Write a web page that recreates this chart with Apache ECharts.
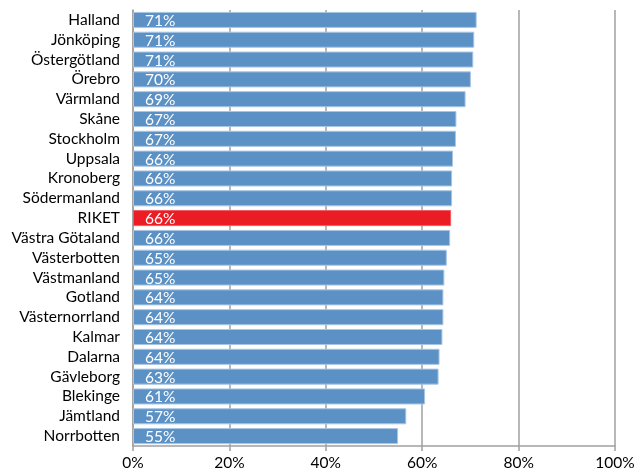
<!DOCTYPE html>
<html>
<head>
<meta charset="utf-8">
<script src="https://cdn.jsdelivr.net/npm/echarts@6/dist/echarts.min.js"></script>
<style>
  html, body { margin: 0; padding: 0; background: #fff; }
  #chart { width: 640px; height: 471px; }
</style>
</head>
<body>
<div id="chart"></div>
<script>
// Län ordered from highest to lowest share, with the national figure (RIKET) in place
const regions = [
  'Halland', 'Jönköping', 'Östergötland', 'Örebro', 'Värmland', 'Skåne',
  'Stockholm', 'Uppsala', 'Kronoberg', 'Södermanland', 'RIKET',
  'Västra Götaland', 'Västerbotten', 'Västmanland', 'Gotland',
  'Västernorrland', 'Kalmar', 'Dalarna', 'Gävleborg', 'Blekinge',
  'Jämtland', 'Norrbotten'
];
const shares = [
  71.3, 70.8, 70.6, 70.1, 69.0, 67.1,
  67.0, 66.4, 66.2, 66.2, 66.0,
  65.8, 65.1, 64.6, 64.4,
  64.4, 64.2, 63.6, 63.4, 60.6,
  56.7, 55.0
];
const highlighted = 'RIKET';
const xTicks = [0, 20, 40, 60, 80, 100];

const FONT = 'Lato, "Open Sans", sans-serif';
const chart = echarts.init(document.getElementById('chart'));

chart.setOption({
  animation: false,
  grid: { left: 133, right: 25, top: 10, bottom: 25, containLabel: false },
  xAxis: {
    type: 'value',
    min: xTicks[0],
    max: xTicks[xTicks.length - 1],
    interval: 20,
    axisLine: { show: true, lineStyle: { color: '#a0a0a0', width: 1.5 } },
    axisTick: { show: true, length: 5, lineStyle: { color: '#a0a0a0', width: 1.5 } },
    splitLine: { show: true, lineStyle: { color: '#a0a0a0', width: 1.5 } },
    axisLabel: {
      color: '#000', fontFamily: FONT, fontSize: 15.5, margin: 9,
      formatter: v => v + '%'
    }
  },
  yAxis: {
    type: 'category',
    inverse: true,
    data: regions,
    axisLine: { show: true, lineStyle: { color: '#a0a0a0', width: 1.5 } },
    axisTick: { show: false },
    axisLabel: { interval: 0, color: '#000', fontFamily: FONT, fontSize: 15.5, margin: 13 }
  },
  series: [{
    type: 'bar',
    barCategoryGap: '19%',
    data: regions.map((r, i) => ({
      value: shares[i],
      itemStyle: r === highlighted
        ? { color: '#ec1c24', borderColor: '#f05a5f', borderWidth: 1 }
        : { color: '#5b91c5', borderColor: '#a9c6e4', borderWidth: 1 }
    })),
    label: {
      show: true,
      position: 'insideLeft',
      offset: [7, 1],
      color: '#fff',
      fontFamily: FONT,
      fontSize: 15.5,
      formatter: p => Math.round(p.value) + '%'
    }
  }]
});
</script>
</body>
</html>
